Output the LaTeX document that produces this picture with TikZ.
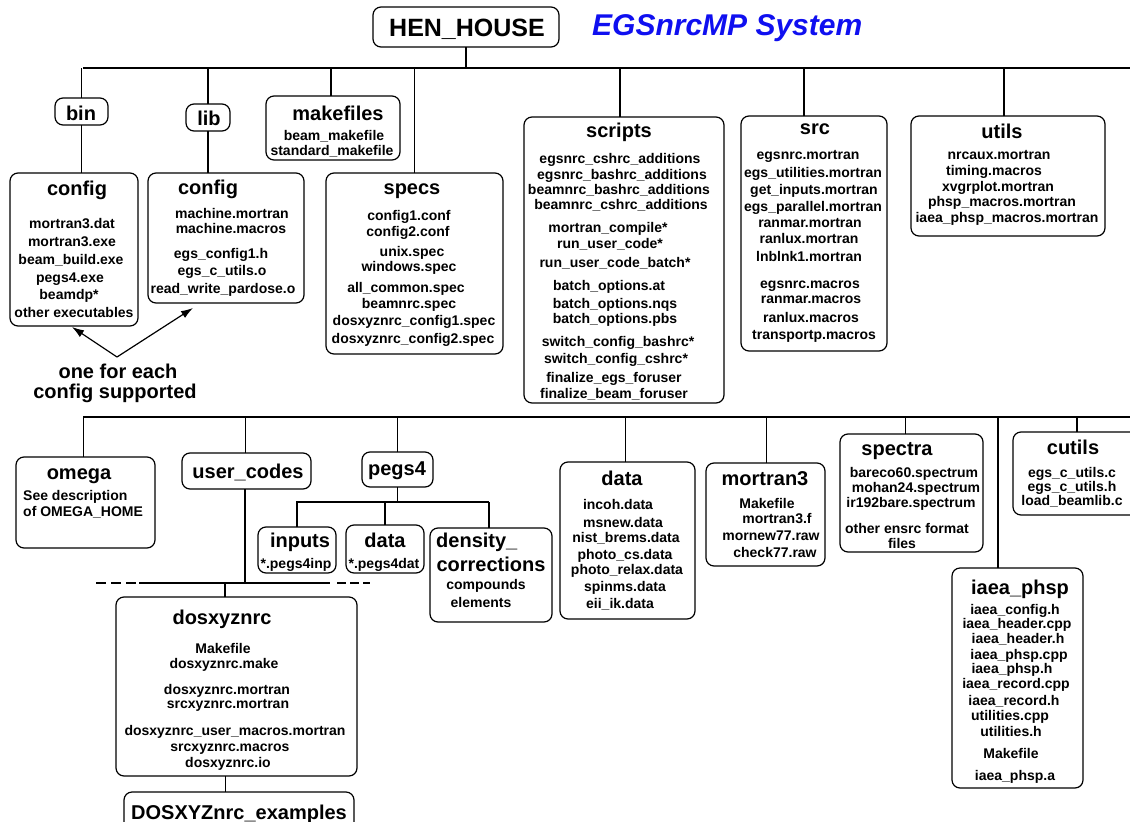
\documentclass[tikz,border=0pt]{standalone}
\usepackage{fontspec}
\setmainfont{Liberation Sans}
\usetikzlibrary{arrows.meta}
\definecolor{egsblue}{RGB}{15,15,240}
\newcommand\mkbox[5]{%
  \pgfmathsetmacro\mkbw{#4-#2}%
  \pgfmathsetmacro\mkbh{#5-#3}%
  \pgfmathsetmacro\mkbx{(#2+#4)/2}%
  \pgfmathsetmacro\mkby{(#3+#5)/2}%
  \node[dirbox,minimum width=\mkbw pt,minimum height=\mkbh pt] (#1) at (\mkbx,\mkby) {};}
\newcommand\mkitems[2]{%
  \foreach \ix/\iy/\itxt in {#2} {\node[it] (#1-\iy) at (\ix,\iy) {\itxt};}}
\begin{document}
\begin{tikzpicture}[x=1pt,y=-1pt,
  dirbox/.style={draw,rounded corners=8pt,line width=1.2pt,inner sep=0pt,outer sep=0pt},
  ti/.style={font=\fontsize{20}{22}\selectfont\bfseries,inner sep=0pt,anchor=base,yshift=-7pt},
  it/.style={font=\fontsize{14}{16}\selectfont\bfseries,inner sep=0pt,anchor=base,yshift=-5pt},
  conn/.style={line width=1.2pt},
  arr/.style={line width=1.2pt,-{Latex[length=12pt,width=8pt]}}]
\useasboundingbox (0,0) rectangle (1130,822);
\fill[white] (0,0) rectangle (1130,822);

% ---------- boxes ----------
\mkbox{hen}{373}{7}{559}{47}
\mkbox{bin}{55}{98}{108}{125}
\mkbox{lib}{186}{104}{230}{131}
\mkbox{mkf}{266}{96}{400}{160}
\mkbox{cfga}{10}{173}{138}{326}
\mkbox{cfgb}{148}{173}{304}{303}
\mkbox{specs}{326}{173}{503}{354}
\mkbox{scripts}{524}{117}{724}{403}
\mkbox{src}{741}{116}{887}{351}
\mkbox{utils}{911}{116}{1105}{236}
\mkbox{omega}{16}{457}{155}{548}
\mkbox{ucodes}{182}{453}{311}{489}
\mkbox{pegs}{362}{452}{433}{487}
\mkbox{inputs}{258}{527}{336}{573}
\mkbox{pdata}{346}{525}{424}{573}
\mkbox{dens}{430}{528}{552}{622}
\mkbox{dosxyz}{116}{597}{357}{776}
\mkbox{examples}{124}{792}{354}{840}
\mkbox{data}{560}{462}{695}{619}
\mkbox{mort}{706}{463}{825}{566}
\mkbox{spectra}{840}{434}{983}{552}
\mkbox{iaea}{952}{568}{1083}{788}
\mkbox{cutils}{1013}{432}{1141}{515}

% ---------- header ----------
\node[font=\fontsize{25}{27}\selectfont\bfseries,inner sep=0pt,anchor=base,yshift=-8.3pt] (hen-t) at (467,28) {HEN\_HOUSE};
\node[font=\fontsize{30}{32}\selectfont\bfseries\itshape,text=egsblue,inner sep=0pt,anchor=base west,yshift=-10pt] (title) at (592,25) {EGSnrcMP System};

% ---------- upper row texts ----------
\node[ti] (bin-t) at (81,113) {bin};
\node[ti] (lib-t) at (209,118) {lib};
\node[ti] (mkf-t) at (338,113) {makefiles};
\mkitems{mkf}{334/135/beam\_makefile, 332/150/standard\_makefile}

\node[ti] (cfga-t) at (77,188) {config};
\mkitems{cfga}{72/223/mortran3.dat, 72/241/mortran3.exe, 71/259/beam\_build.exe, 70/277/pegs4.exe, 69/294/beamdp*, 74/312/other executables}

\node[ti] (cfgb-t) at (208,187) {config};
\mkitems{cfgb}{232/213/machine.mortran, 231/228/machine.macros, 221/253/egs\_config1.h, 222/270/egs\_c\_utils.o, 223/288/read\_write\_pardose.o}

\node[ti] (specs-t) at (412,187) {specs};
\mkitems{specs}{409/215/config1.conf, 408/231/config2.conf, 412/251/unix.spec, 409/266/windows.spec, 406/287/all\_common.spec, 409/303/beamnrc.spec, 414/320/dosxyznrc\_config1.spec, 413/338/dosxyznrc\_config2.spec}

\node[ti] (scripts-t) at (619,130) {scripts};
\mkitems{scripts}{620/158/egsnrc\_cshrc\_additions, 622/174/egsnrc\_bashrc\_additions, 619/189/beamnrc\_bashrc\_additions, 621/204/beamnrc\_cshrc\_additions, 608/227/mortran\_compile*, 610/243/run\_user\_code*, 615/262/run\_user\_code\_batch*, 609/285/batch\_options.at, 615/303/batch\_options.nqs, 615/318/batch\_options.pbs, 618/341/switch\_config\_bashrc*, 616/358/switch\_config\_cshrc*, 614/377/finalize\_egs\_foruser, 614/393/finalize\_beam\_foruser}

\node[ti] (src-t) at (815,127) {src};
\mkitems{src}{808/154/egsnrc.mortran, 813/172/egs\_utilities.mortran, 814/189/get\_inputs.mortran, 813/206/egs\_parallel.mortran, 810/222/ranmar.mortran, 809/238/ranlux.mortran, 809/256/lnblnk1.mortran, 810/283/egsnrc.macros, 811/298/ranmar.macros, 811/317/ranlux.macros, 814/334/transportp.macros}

\node[ti] (utils-t) at (1002,131) {utils};
\mkitems{utils}{999/154/nrcaux.mortran, 994/170/timing.macros, 998/186/xvgrplot.mortran, 1002/201/phsp\_macros.mortran, 1007/217/iaea\_phsp\_macros.mortran}

\node[ti] (note1) at (118,371) {one for each};
\node[ti] (note2) at (115,391) {config supported};

% ---------- lower row texts ----------
\node[ti] (omega-t) at (79,472) {omega};
\node[it,anchor=base west] (omega-a) at (23,495) {See description};
\node[it,anchor=base west] (omega-b) at (23,511) {of OMEGA\_HOME};

\node[ti] (ucodes-t) at (248,471) {user\_codes};
\node[ti] (pegs-t) at (397,468) {pegs4};
\node[ti] (inputs-t) at (300,540) {inputs};
\node[it] (inputs-a) at (296,563) {*.pegs4inp};
\node[ti] (pdata-t) at (385,540) {data};
\node[it] (pdata-a) at (384,563) {*.pegs4dat};
\node[ti,anchor=base west] (dens-t) at (436,540) {density\_};
\node[ti] (dens-u) at (491,564) {corrections};
\node[it] (dens-a) at (486,584) {compounds};
\node[it] (dens-b) at (481,602) {elements};

\node[ti] (dosxyz-t) at (222,617) {dosxyznrc};
\mkitems{dosxyz}{223/648/Makefile, 224/663/dosxyznrc.make, 227/689/dosxyznrc.mortran, 228/703/srcxyznrc.mortran, 235/730/dosxyznrc\_user\_macros.mortran, 230/746/srcxyznrc.macros, 228/762/dosxyznrc.io}
\node[ti] (examples-t) at (239,812) {DOSXYZnrc\_examples};

\node[ti] (data-t) at (622,478) {data};
\mkitems{data}{618/504/incoh.data, 623/522/msnew.data, 626/537/nist\_brems.data, 625/554/photo\_cs.data, 627/569/photo\_relax.data, 625/586/spinms.data, 620/603/eii\_ik.data}

\node[ti] (mort-t) at (765,478) {mortran3};
\mkitems{mort}{767/503/Makefile, 777/518/mortran3.f, 771/535/mornew77.raw, 775/552/check77.raw}

\node[ti] (spectra-t) at (897,448) {spectra};
\mkitems{spectra}{914/472/bareco60.spectrum, 916/487/mohan24.spectrum, 911/502/ir192bare.spectrum, 907/528/other ensrc format, 902/543/files}

\node[ti] (cutils-t) at (1073,447) {cutils};
\mkitems{cutils}{1072/472/egs\_c\_utils.c, 1072/486/egs\_c\_utils.h, 1072/500/load\_beamlib.c}

\node[ti] (iaea-t) at (1020,587) {iaea\_phsp};
\mkitems{iaea}{1015/609/iaea\_config.h, 1017/623/iaea\_header.cpp, 1018/638/iaea\_header.h, 1019/654/iaea\_phsp.cpp, 1012/668/iaea\_phsp.h, 1016/683/iaea\_record.cpp, 1014/700/iaea\_record.h, 1010/715/utilities.cpp, 1011/731/utilities.h, 1011/753/Makefile, 1015/775/iaea\_phsp.a}

% ---------- connectors: upper tree ----------
\coordinate (L1a) at (83,68);
\coordinate (L1b) at (1130,68);
\draw[conn] (L1a) -- (L1b);
\draw[conn] (hen.south) -- (hen.south |- L1a);
\draw[conn] (bin.north) -- (bin.north |- L1a);
\draw[conn] (bin.south) -- (bin.south |- cfga.north);
\draw[conn] (lib.north) -- (lib.north |- L1a);
\draw[conn] (lib.south) -- (lib.south |- cfgb.north);
\draw[conn] ([xshift=-2pt]mkf.north) -- ([xshift=-2pt]mkf.north |- L1a);
\draw[conn] (specs.north) -- (specs.north |- L1a);
\draw[conn] ([xshift=-4pt]scripts.north) -- ([xshift=-4pt]scripts.north |- L1a);
\draw[conn] ([xshift=-10pt]src.north) -- ([xshift=-10pt]src.north |- L1a);
\draw[conn] ([xshift=-4pt]utils.north) -- ([xshift=-4pt]utils.north |- L1a);

\coordinate (apex) at (117,357);
\draw[arr] (apex) -- ([xshift=-2pt,yshift=-1pt]cfga.south);
\draw[arr] (apex) -- ([xshift=-33pt,yshift=-5pt]cfgb.south);

% ---------- connectors: lower tree ----------
\coordinate (L2a) at (83,417);
\coordinate (L2b) at (1130,417);
\draw[conn] (L2a) -- (L2b);
\draw[conn] ([xshift=-2pt]omega.north) -- ([xshift=-2pt]omega.north |- L2a);
\draw[conn] ([xshift=-1pt]ucodes.north) -- ([xshift=-1pt]ucodes.north |- L2a);
\draw[conn] (pegs.north) -- (pegs.north |- L2a);
\draw[conn] ([xshift=-2pt]data.north) -- ([xshift=-2pt]data.north |- L2a);
\draw[conn] ([xshift=1pt]mort.north) -- ([xshift=1pt]mort.north |- L2a);
\draw[conn] ([xshift=-6pt]spectra.north) -- ([xshift=-6pt]spectra.north |- L2a);
\draw[conn] ([xshift=-19.5pt]iaea.north) -- ([xshift=-19.5pt]iaea.north |- L2a);
\draw[conn] (cutils.north) -- (cutils.north |- L2a);

\coordinate (P1) at (296,502);
\coordinate (P2) at (489,502);
\draw[conn] (pegs.south) -- (pegs.south |- P1);
\draw[conn] (P1) -- (P2);
\draw[conn] (inputs.north) -- (inputs.north |- P1);
\draw[conn] (pdata.north) -- (pdata.north |- P1);
\draw[conn] ([xshift=-2pt]dens.north) -- ([xshift=-2pt]dens.north |- P1);

\coordinate (U0) at (96,583);
\coordinate (U1) at (139,583);
\coordinate (U2) at (330,583);
\coordinate (U3) at (337,583);
\coordinate (U4) at (370,583);
\draw[conn] ([xshift=-1.5pt]ucodes.south) -- ([xshift=-1.5pt]ucodes.south |- U1);
\draw[conn] (U1) -- (U2);
\draw[conn,dash pattern=on 10pt off 5pt] (U0) -- (U1);
\draw[conn,dash pattern=on 9pt off 4pt] (U3) -- (U4);
\draw[conn] ([xshift=-11.5pt]dosxyz.north) -- ([xshift=-11.5pt]dosxyz.north |- U1);
\draw[conn] ([xshift=-11pt]dosxyz.south) -- ([xshift=-11pt]dosxyz.south |- examples.north);
\end{tikzpicture}
\end{document}
